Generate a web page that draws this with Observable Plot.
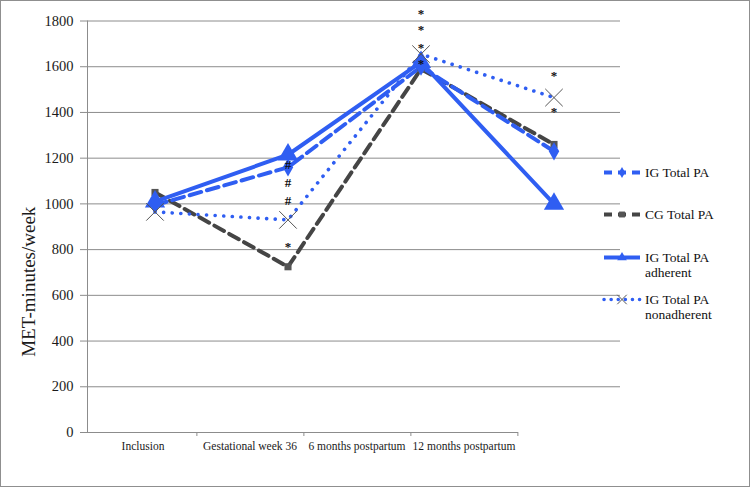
<!DOCTYPE html>
<html>
<head>
<meta charset="utf-8">
<script src="https://cdn.jsdelivr.net/npm/d3@7"></script>
<script src="https://cdn.jsdelivr.net/npm/@observablehq/plot@0.6"></script>
<style>
  body { margin: 0; background: #fff; }
  #wrap { position: relative; width: 750px; height: 487px; overflow: hidden; background: #fff; }
  #wrap > svg, #wrap > figure { position: absolute; left: 0; top: 0; margin: 0; }
  #border { position: absolute; left: 0; top: 0; width: 750px; height: 487px; box-sizing: border-box; border: 1.5px solid #8f8f8f; pointer-events: none; }
  #legend { position: absolute; left: 602px; top: 164.5px; font-family: "Liberation Serif", serif; font-size: 13.5px; color: #111; }
  #legend .row { display: flex; align-items: flex-start; height: 42.5px; }
  #legend .row svg { flex: none; }
  #legend .lbl { margin-left: 3px; line-height: 15px; }
</style>
</head>
<body>
<div id="wrap"><div id="legend"></div><div id="border"></div></div>
<script>
const categories = ["Inclusion", "Gestational week 36", "6 months postpartum", "12 months postpartum"];
const yTicks = [0, 200, 400, 600, 800, 1000, 1200, 1400, 1600, 1800];

const seriesNames = ["IG Total PA", "CG Total PA", "IG Total PA adherent", "IG Total PA nonadherent"];
const igTotal = [995, 1160, 1600, 1230];
const cgTotal = [1050, 725, 1590, 1260];
const igAdherent = [1010, 1215, 1620, 1000];
const igNonadherent = [965, 930, 1655, 1465];

// significance markers (category, value position, symbol)
const annotCategory = ["Gestational week 36", "Gestational week 36", "Gestational week 36", "Gestational week 36",
  "6 months postpartum", "6 months postpartum", "6 months postpartum", "6 months postpartum",
  "12 months postpartum", "12 months postpartum"];
const annotValue = [1170, 1092, 1015, 810, 1833, 1763, 1684, 1614, 1562, 1404];
const annotLabel = ["#", "#", "#", "*", "*", "*", "*", "*", "*", "*"];

const BLUE = "#2f5ef2";
const GRAY = "#454545";
const FONT = "Liberation Serif, serif";

const toRows = (vals) => categories.map((c, i) => ({cat: c, v: vals[i]}));
const annots = annotLabel.map((t, i) => ({cat: annotCategory[i], v: annotValue[i], t}));

const W = 750, H = 487, ML = 87, MT = 20.5, MB = 55;

const main = Plot.plot({
  width: W, height: H,
  marginLeft: ML, marginRight: 130, marginTop: MT, marginBottom: MB,
  x: {type: "band", domain: categories, padding: 0, axis: null},
  y: {domain: [0, 1800], axis: null},
  style: {fontFamily: FONT, color: "#111"},
  marks: [
    Plot.gridY(yTicks.filter(t => t > 0), {stroke: "#8c8c8c", strokeOpacity: 1, strokeWidth: 1}),
    Plot.frame({anchor: "left", stroke: "#8c8c8c"}),
    Plot.axisY(yTicks, {tickSize: 7, tickPadding: 7, fontSize: 14.5, stroke: "#8c8c8c", label: null, fill: "#1a1a1a", tickFormat: d => String(d)}),
    Plot.text(["MET-minutes/week"], {frameAnchor: "left", textAnchor: "middle", rotate: -90, dx: -59, dy: 55, fontSize: 19, fill: "#1a1a1a"}),
    Plot.line(toRows(cgTotal), {x: "cat", y: "v", stroke: GRAY, strokeWidth: 4, strokeDasharray: "11 6"}),
    Plot.line(toRows(igNonadherent), {x: "cat", y: "v", stroke: BLUE, strokeWidth: 3.6, strokeDasharray: "0.1 8.5", strokeLinecap: "round"}),
    Plot.line(toRows(igTotal), {x: "cat", y: "v", stroke: BLUE, strokeWidth: 4, strokeDasharray: "12 6"}),
    Plot.line(toRows(igAdherent), {x: "cat", y: "v", stroke: BLUE, strokeWidth: 4}),
    Plot.dot(toRows(cgTotal), {x: "cat", y: "v", symbol: "square", r: 4, fill: "#555"}),
    Plot.dot(toRows(igTotal), {x: "cat", y: "v", symbol: "diamond", r: 5.5, fill: BLUE}),
    Plot.dot(toRows(igAdherent), {x: "cat", y: "v", symbol: "triangle", r: 7.5, fill: BLUE}),
    Plot.dot(toRows(igNonadherent), {x: "cat", y: "v", symbol: "times", r: 8, stroke: "#555", strokeWidth: 1}),
    Plot.text(annots, {x: "cat", y: "v", text: "t", fontSize: 13, fontWeight: "bold", fill: "#111"})
  ]
});

// x-axis (drawn narrower than the data area, as in the original)
const bw = (W - 232 - ML) / categories.length;
const xaxis = Plot.plot({
  width: W, height: H,
  marginLeft: ML, marginRight: 232, marginTop: MT, marginBottom: MB,
  x: {type: "band", domain: categories, padding: 0, axis: null},
  y: {domain: [0, 1800], axis: null},
  style: {fontFamily: FONT, background: "transparent", color: "#111"},
  marks: [
    Plot.ruleY([0], {stroke: "#8c8c8c"}),
    Plot.axisX({tickSize: 0, tickPadding: 9, fontSize: 11.5, label: null, fill: "#1a1a1a"}),
    Plot.axisX({tickSize: 4, tickFormat: () => "", label: null, stroke: "#8c8c8c", dx: bw / 2})
  ]
});

const wrap = document.getElementById("wrap");
wrap.insertBefore(main, wrap.firstChild);
xaxis.style.pointerEvents = "none";
wrap.insertBefore(xaxis, main.nextSibling);

// legend
const legendSpecs = [
  {label: ["IG Total PA"], stroke: BLUE, dash: "8 6", sym: "diamond", fill: BLUE},
  {label: ["CG Total PA"], stroke: GRAY, dash: "8 6", sym: "square", fill: "#555"},
  {label: ["IG Total PA", "adherent"], stroke: BLUE, dash: null, sym: "triangle", fill: BLUE},
  {label: ["IG Total PA", "nonadherent"], stroke: BLUE, dash: "0.1 7", sym: "times", fill: "none"}
];
const legend = document.getElementById("legend");
const symGen = {diamond: d3.symbolDiamond, square: d3.symbolSquare, triangle: d3.symbolTriangle, times: d3.symbolTimes};
legendSpecs.forEach((s, i) => {
  const row = document.createElement("div");
  row.className = "row";
  const svg = d3.create("svg").attr("width", 40).attr("height", 15);
  svg.append("line").attr("x1", 2).attr("x2", 38).attr("y1", 7.5).attr("y2", 7.5)
    .attr("stroke", s.stroke).attr("stroke-width", s.dash && s.dash.startsWith("0.1") ? 3.5 : 4)
    .attr("stroke-dasharray", s.dash).attr("stroke-linecap", s.dash && s.dash.startsWith("0.1") ? "round" : "butt");
  const size = s.sym === "times" ? 60 : s.sym === "triangle" ? 40 : 35;
  svg.append("path").attr("transform", "translate(20,7.5)")
    .attr("d", d3.symbol(symGen[s.sym], size)())
    .attr("fill", s.fill).attr("stroke", s.sym === "times" ? "#555" : "none").attr("stroke-width", 1);
  row.appendChild(svg.node());
  const lbl = document.createElement("div");
  lbl.className = "lbl";
  lbl.innerHTML = s.label.join("<br>");
  row.appendChild(lbl);
  legend.appendChild(row);
});
</script>
</body>
</html>
